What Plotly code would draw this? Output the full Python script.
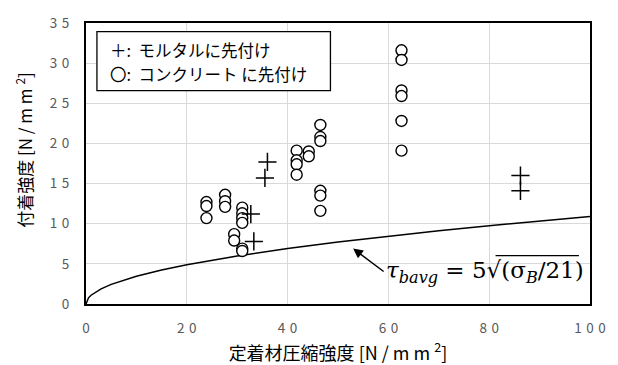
import numpy as np
import plotly.graph_objects as go

# Bond strength tests: anchoring material compressive strength vs. bond strength
mortar_x = [36.0, 35.5, 33.3, 32.7, 86.2, 86.2]
mortar_y = [17.7, 15.7, 7.8, 11.2, 16.0, 14.1]

concrete_x = [23.9, 23.9, 23.9,
              27.6, 27.6, 27.6,
              31.0, 31.0, 31.0, 31.0,
              29.4, 29.4,
              31.0, 31.0,
              41.8, 41.8, 41.8, 41.8,
              44.2, 44.2,
              46.5, 46.5, 46.5, 46.5, 46.5, 46.5,
              62.6, 62.6, 62.6, 62.6, 62.6, 62.6]
concrete_y = [12.7, 12.2, 10.7,
              13.6, 12.8, 12.1,
              12.0, 11.3, 10.7, 10.1,
              8.7, 7.9,
              6.9, 6.6,
              19.1, 17.9, 17.4, 16.1,
              19.0, 18.4,
              22.3, 20.8, 20.3, 14.1, 13.5, 11.6,
              31.6, 30.4, 26.6, 25.9, 22.8, 19.1]

# design curve tau_bavg = 5 * sqrt(sigma_B / 21)
sigma_b = np.array([0, 0.5, 1, 2, 3, 5, 7.5, 10, 15, 20, 30, 40, 50, 60, 70, 80, 90, 100])
tau_bavg = 5 * np.sqrt(sigma_b / 21)

SP = "\u00a0"
DG = "\u2004"
x_ticks = [0, 20, 40, 60, 80, 100]
x_tick_text = ["0", f"2{DG}0", f"4{DG}0", f"6{DG}0", f"8{DG}0", f"1{DG}0{DG}0"]
y_ticks = [0, 5, 10, 15, 20, 25, 30, 35]
y_tick_text = ["0", "5", f"1{DG}0", f"1{DG}5", f"2{DG}0", f"2{DG}5", f"3{DG}0", f"3{DG}5"]
unit_text = f"[N{SP}/{SP}m{SP}m{SP}<sup>2</sup>]"

JP = "Noto Sans CJK JP"

fig = go.Figure()
fig.add_trace(go.Scatter(
    x=sigma_b, y=tau_bavg, mode="lines",
    line=dict(color="black", width=1.5), showlegend=False, hoverinfo="skip"))
fig.add_trace(go.Scatter(
    x=concrete_x, y=concrete_y, mode="markers", name="コンクリートに先付け",
    marker=dict(symbol="circle", size=11, color="white",
                line=dict(color="black", width=1.4)),
    showlegend=False))
fig.add_trace(go.Scatter(
    x=mortar_x, y=mortar_y, mode="markers", name="モルタルに先付け",
    marker=dict(symbol="cross-thin", size=13,
                line=dict(color="black", width=1.5)),
    showlegend=False))

# legend box drawn as text
fig.add_shape(type="rect", xref="paper", yref="paper",
              x0=0.0217, x1=0.485, y0=0.759, y1=0.969,
              line=dict(color="black", width=1.3), fillcolor="white", layer="above")
fig.add_annotation(xref="paper", yref="paper", x=0.044, y=0.903,
                   xanchor="left", yanchor="middle", showarrow=False,
                   text="＋:  モルタルに先付け",
                   font=dict(family=JP, size=16.5, color="black"))
fig.add_annotation(xref="paper", yref="paper", x=0.044, y=0.817,
                   xanchor="left", yanchor="middle", showarrow=False,
                   text="〇:  コンクリート に先付け",
                   font=dict(family=JP, size=16.5, color="black"))

# y-axis title, placed slightly above the plot centre
fig.add_annotation(xref="paper", yref="paper", x=-0.122, y=0.547,
                   xanchor="center", yanchor="middle", showarrow=False,
                   textangle=-90, text="付着強度 " + unit_text,
                   font=dict(family=JP, size=17, color="black"))

# arrow to the design curve and its formula
fig.add_annotation(x=53.0, y=6.9, ax=32, ay=24, text="", showarrow=True,
                   arrowhead=2, arrowsize=1.3, arrowwidth=1.5, arrowcolor="black")
fig.add_annotation(x=59.2, y=4.0, xanchor="left", yanchor="middle", showarrow=False,
                   text="<i>τ</i><sub><i>bavg</i></sub> = 5√(σ<sub><i>B</i></sub>/21)",
                   font=dict(family="DejaVu Serif", size=23, color="black"))
fig.add_shape(type="line", xref="paper", yref="paper",
              x0=0.8126, x1=0.978, y0=0.1724, y1=0.1724,
              line=dict(color="black", width=1.2))

fig.update_layout(
    width=618, height=365,
    margin=dict(l=86, r=25, t=15, b=60),
    paper_bgcolor="white", plot_bgcolor="white",
    xaxis=dict(range=[0, 100], tickvals=x_ticks, ticktext=x_tick_text,
               showgrid=True, gridcolor="#d9d9d9", gridwidth=1,
               showline=True, linecolor="black", linewidth=2, mirror=True,
               ticks="", ticklabelstandoff=11, zeroline=False,
               tickfont=dict(family=JP, size=13.5, color="#595959"),
               title=dict(text="定着材圧縮強度 " + unit_text, standoff=3,
                          font=dict(family=JP, size=18, color="black"))),
    yaxis=dict(range=[0, 35], tickvals=y_ticks, ticktext=y_tick_text,
               showgrid=True, gridcolor="#d9d9d9", gridwidth=1,
               showline=True, linecolor="black", linewidth=2, mirror=True,
               ticks="", ticklabelstandoff=12, zeroline=False,
               tickfont=dict(family=JP, size=13.5, color="#595959")),
)

fig.write_html("out.html")
